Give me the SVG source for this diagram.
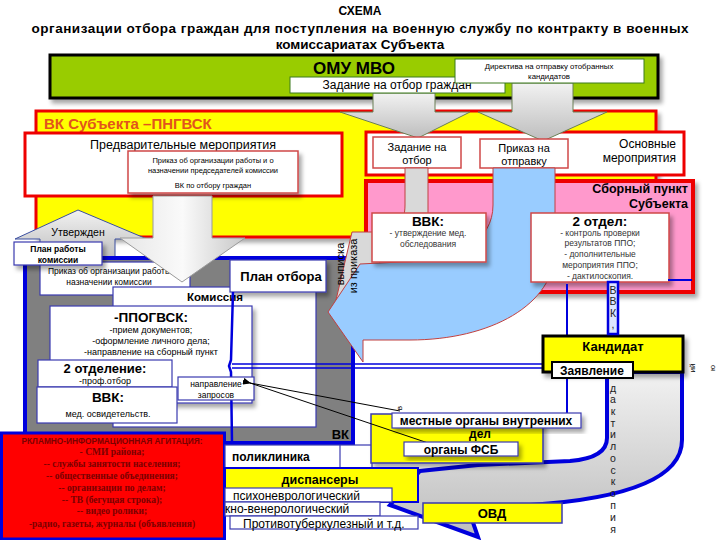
<svg xmlns="http://www.w3.org/2000/svg" width="720" height="540" viewBox="0 0 720 540">
<defs>
<filter id="sh" x="-10%" y="-15%" width="130%" height="150%"><feDropShadow dx="3" dy="4" stdDeviation="2" flood-color="#000" flood-opacity="0.35"/></filter>
<linearGradient id="gg" x1="0" y1="0" x2="0" y2="1"><stop offset="0" stop-color="#f2f2f2"/><stop offset="1" stop-color="#bdbdbd"/></linearGradient>
<linearGradient id="gh" x1="0" y1="0" x2="1" y2="0"><stop offset="0" stop-color="#e6e6e6"/><stop offset="0.5" stop-color="#fafafa"/><stop offset="1" stop-color="#c8c8c8"/></linearGradient>
<marker id="ah" markerWidth="8" markerHeight="6" refX="1" refY="3" orient="auto-start-reverse" markerUnits="userSpaceOnUse"><path d="M8,0 L0,3 L8,6 Z" fill="#000"/></marker>
<style>
text{font-family:"Liberation Sans",Arial,sans-serif;fill:#000}
.b{font-weight:bold}
.m{text-anchor:middle}
.e{text-anchor:end}
.s{font-size:8.5px;fill:#333}
.wb{fill:#fff;stroke:#3a3ab0;stroke-width:1.2}
.wr{fill:#fff;stroke:#d04848;stroke-width:1.5}
.bl{stroke:#0000dd;fill:none}
.rt{font-family:"Liberation Serif","Times New Roman",serif;font-weight:bold;font-size:9.5px;fill:#7a0000;text-anchor:middle}
.v{font-size:10.5px;text-anchor:middle;fill:#222}
</style>
</defs>
<rect width="720" height="540" fill="#fff"/>

<g id="title">
<text x="360" y="15" class="b m" font-size="12">СХЕМА</text>
<text x="360" y="33" class="b m" font-size="13.5" textLength="657">организации отбора граждан для поступления на военную службу по контракту в военных</text>
<text x="360" y="49" class="b m" font-size="13.5">комиссариатах Субъекта</text>
</g>

<g id="omu">
<rect x="50" y="55" width="608" height="43" fill="#99cc00" stroke="#000" stroke-width="3" filter="url(#sh)"/>
<text x="354" y="74" class="b m" font-size="17">ОМУ МВО</text>
</g>

<g id="vk-subj">
<rect x="36" y="111" width="620" height="126" fill="#ffff00" stroke="#ee0000" stroke-width="3" filter="url(#sh)"/>
<text x="44" y="129" class="b" font-size="15" style="fill:#e2541c">ВК Субъекта –ПНГВСК</text>
</g>

<g id="predv">
<rect x="25" y="133" width="317" height="63" fill="#fff" stroke="#ee0000" stroke-width="3"/>
<text x="183" y="149" class="m" font-size="12.5">Предварительные мероприятия</text>
</g>

<g id="osn">
<rect x="366" y="132" width="318" height="43" fill="#fff" stroke="#ee0000" stroke-width="3"/>
<text x="676" y="148" class="e" font-size="12">Основные</text>
<text x="676" y="162" class="e" font-size="12">мероприятия</text>
</g>

<g id="sbor">
<rect x="366" y="181" width="327" height="111" fill="#ff99cc" stroke="#ee0000" stroke-width="4" filter="url(#sh)"/>
<text x="688" y="193" class="b e" font-size="12.5">Сборный пункт</text>
<text x="688" y="208" class="b e" font-size="12.5">Субъекта</text>
</g>

<g id="connectors">
<path d="M373,93 L435,93 L435,112 L470,112 L418,138 L340,112 L373,112 Z" fill="url(#gg)" stroke="#6b7f55" stroke-width="1"/>
<path d="M512,83 L573,83 L573,112 L607,112 L543,141 L478,112 L512,112 Z" fill="url(#gg)" stroke="#6b7f55" stroke-width="1"/>
<path d="M40,260 L40,239 L15,239 L78,210 L147,239 L115,239 L115,260 Z" fill="url(#gg)" stroke="#3a4ea0" stroke-width="1"/>
</g>

<g id="zad-otbor">
<rect x="373" y="137" width="88" height="31" class="wr"/>
<text x="417" y="151" class="m" font-size="11">Задание на</text>
<text x="417" y="164" class="m" font-size="11">отбор</text>
</g>
<g id="prikaz-otpr">
<rect x="480" y="139" width="88" height="29" class="wr"/>
<text x="524" y="152" class="m" font-size="11">Приказ на</text>
<text x="524" y="165" class="m" font-size="11">отправку</text>
</g>
<g id="zad-grazhdan">
<rect x="290" y="77" width="215" height="16" fill="#fff" stroke="#3d7a1e" stroke-width="1"/>
<text x="397" y="89" class="m" font-size="12">Задание на отбор граждан</text>
</g>
<g id="direktiva">
<rect x="455" y="59" width="189" height="24" fill="#fff" stroke="#3d7a1e" stroke-width="1"/>
<text x="549" y="69" class="m" font-size="7.8" fill="#222">Директива на отправку отобранных</text>
<text x="549" y="79" class="m" font-size="7.8" fill="#222">кандидатов</text>
</g>
<g id="prikaz-vk">
<rect x="128" y="151" width="170" height="42" class="wr" filter="url(#sh)"/>
<text x="213" y="163" class="m" font-size="7.5" fill="#333">Приказ об организации работы и о</text>
<text x="213" y="173" class="m" font-size="7.5" fill="#333">назначении председателей комиссии</text>
<text x="213" y="188" class="m" font-size="7.5" fill="#333">ВК по отбору граждан</text>
</g>

<g id="vk">
<rect x="25" y="258" width="328" height="185" fill="#808080" stroke="#0000dd" stroke-width="4"/>
<text x="349" y="439" class="b e" font-size="13">ВК</text>
</g>

<g id="connectors-2">
<path d="M405,168 L428,168 L428,215 C428,240 410,255 380,258 L376,300 L336,300 L352,232 L380,232 C398,232 405,222 405,205 Z" fill="#d9d9d9" stroke="#c04040" stroke-width="1"/>
<path d="M493,168 L555,168 L555,250 C555,305 490,340 410,340 L363,340 L363,362 L328,312 L360,264 L400,262 C460,262 493,240 493,205 Z" fill="#99ccff" stroke="#c04040" stroke-width="1"/>
</g>

<g id="vypiska">
<text transform="translate(344,264) rotate(-90)" class="m" font-size="11">выписка</text>
<text transform="translate(357,266) rotate(-90)" class="m" font-size="11">из приказа</text>
</g>

<g id="vvk-sbor">
<rect x="372" y="213" width="114" height="49" class="wr" filter="url(#sh)"/>
<text x="428" y="226" class="b m" font-size="13.5">ВВК:</text>
<text x="428" y="236" class="m s">- утверждение мед.</text>
<text x="428" y="247" class="m s">обследования</text>
</g>
<g id="otdel2">
<rect x="531" y="213" width="138" height="69" class="wr" filter="url(#sh)"/>
<text x="600" y="226" class="b m" font-size="13.5">2 отдел:</text>
<text x="600" y="236" class="m s">- контроль проверки</text>
<text x="600" y="246" class="m s">результатов ППО;</text>
<text x="600" y="257" class="m s">- дополнительные</text>
<text x="600" y="268" class="m s">мероприятия ППО;</text>
<text x="600" y="279" class="m s">- дактилоскопия.</text>
</g>
<line x1="668" y1="280" x2="692" y2="280" class="bl" stroke-width="2"/>

<g id="prikaz-kom">
<rect x="40" y="262" width="150" height="33" class="wb"/>
<text x="48" y="274" font-size="8.5" fill="#444">Приказ об организации работы и о</text>
<text x="109" y="285" class="m" font-size="8.5" fill="#444">назначении комиссии</text>
</g>

<g id="arrow-kom">
<path d="M153,196 L212,196 L212,238 L245,238 L182,282 L120,238 L153,238 Z" fill="url(#gh)" stroke="#9a9a9a" stroke-width="1"/>
</g>

<g id="utv">
<text x="78" y="236" class="m" font-size="10.5" fill="#333">Утвержден</text>
</g>
<g id="plan-rab">
<rect x="14" y="242" width="88" height="23" class="wb" filter="url(#sh)"/>
<text x="58" y="252" class="b m" font-size="8.5">План работы</text>
<text x="58" y="263" class="b m" font-size="8.5">комиссии</text>
</g>

<g id="komissiya">
<rect x="113" y="287" width="203" height="140" class="wb"/>
<text x="215" y="301" class="b m" font-size="11.5">Комиссия</text>
</g>
<g id="plan-otbora">
<rect x="230" y="260" width="96" height="32" class="wb" filter="url(#sh)"/>
<text x="281" y="281" class="b m" font-size="13">План отбора</text>
</g>

<g id="ppogvsk">
<rect x="50" y="306" width="202" height="97" class="wb" filter="url(#sh)"/>
<text x="151" y="322" class="b m" font-size="13.5">-ППОГВСК:</text>
<text x="151" y="333" class="m" font-size="9" fill="#333">-прием документов;</text>
<text x="151" y="344" class="m" font-size="9" fill="#333">-оформление личного дела;</text>
<text x="151" y="355" class="m" font-size="9" fill="#333">-направление на сборный пункт</text>
</g>

<g id="blue-lines">
<path d="M233,292 L231,360 L229,366 L231,372 L232,443" class="bl" stroke-width="2.5"/>
<line x1="232" y1="364" x2="553" y2="364" class="bl" stroke-width="1.5"/>
<line x1="232" y1="368" x2="553" y2="368" class="bl" stroke-width="1.5"/>
<path d="M567,284 L567,417" class="bl" stroke-width="2"/>
<text transform="translate(402,408) rotate(-90)" class="m" font-size="8" fill="#333">в</text>
</g>

<g id="otdelenie2">
<rect x="38" y="360" width="134" height="27" class="wb"/>
<text x="105" y="373" class="b m" font-size="13">2 отделение:</text>
<text x="105" y="384" class="m" font-size="9" fill="#333">-проф.отбор</text>
</g>
<g id="vvk-left">
<rect x="37" y="387" width="140" height="36" class="wb"/>
<text x="108" y="402" class="b m" font-size="13.5">ВВК:</text>
<text x="108" y="417" class="m" font-size="9" fill="#333">мед. освидетельств.</text>
</g>
<g id="napr">
<rect x="178" y="377" width="76" height="23" class="wb"/>
<text x="216" y="387" class="m" font-size="8.5" fill="#333">направление</text>
<text x="216" y="398" class="m" font-size="8.5" fill="#333">запросов</text>
</g>

<g id="u-arrow">
<path d="M607,372 L607,438 Q607,458 570,461 L478,465 L420,471 L390,505 L478,537 L468,508 L530,505 Q682,495 682,440 L682,372 Z" fill="url(#gg)" stroke="#0000dd" stroke-width="4"/>
</g>

<g id="reklama">
<rect x="1.5" y="433" width="223" height="106" fill="#ff0000" stroke="#0000dd" stroke-width="3"/>
<text x="112" y="444" class="b m" font-size="8.3" style="fill:#7a0000">РКЛАМНО-ИНФОРМАЦИОННАЯ АГИТАЦИЯ:</text>
<text x="112" y="455" class="rt">- СМИ района;</text>
<text x="112" y="467" class="rt">-- службы занятости населения;</text>
<text x="112" y="479" class="rt">-- общественные объединения;</text>
<text x="112" y="491" class="rt">-- организации по делам;</text>
<text x="112" y="503" class="rt">-- ТВ (бегущая строка);</text>
<text x="112" y="514" class="rt">-- видео ролики;</text>
<text x="112" y="527" class="rt">-радио, газеты, журналы (объявления)</text>
</g>

<g id="poliklinika">
<rect x="225" y="445" width="147" height="23" class="wb"/>
<line x1="340" y1="445" x2="340" y2="468" stroke="#3a3ab0" stroke-width="1.2"/>
<text x="232" y="461" class="b" font-size="12">поликлиника</text>
</g>

<g id="organy">
<rect x="371" y="414" width="172" height="49" fill="#ffff00" stroke="#3a3ab0" stroke-width="1.5" filter="url(#sh)"/>
<text x="480" y="438" class="b m" font-size="12">дел</text>
</g>
<g id="zapros-lines">
<line x1="250" y1="383" x2="400" y2="411" stroke="#000" stroke-width="1" marker-start="url(#ah)"/>
<line x1="250" y1="383" x2="437" y2="446" stroke="#000" stroke-width="1" marker-start="url(#ah)"/>
</g>
<g id="mvd">
<rect x="392" y="413" width="189" height="15" class="wb" filter="url(#sh)"/>
<text x="486" y="425" class="b m" font-size="12">местные органы внутренних</text>
</g>
<g id="fsb">
<rect x="404" y="442" width="114" height="14" class="wb" filter="url(#sh)"/>
<text x="461" y="454" class="b m" font-size="12">органы ФСБ</text>
</g>

<g id="dispansery">
<rect x="225" y="468" width="193" height="34" fill="#ffff00" stroke="#0000dd" stroke-width="2"/>
<text x="320" y="484" class="b m" font-size="12.5">диспансеры</text>
<rect x="225" y="488" width="167" height="14" class="wb"/>
<text x="233" y="500" font-size="12">психоневрологический</text>
<rect x="225" y="502" width="155" height="14" class="wb"/>
<text x="225" y="513" font-size="12">кно-венерологический</text>
<rect x="230" y="516" width="188" height="13" class="wb"/>
<text x="243" y="528" font-size="12">Противотуберкулезный и т.д.</text>
</g>

<g id="ovd">
<rect x="423" y="503" width="139" height="20" fill="#ffff00" stroke="#3a3ab0" stroke-width="1.5"/>
<text x="492" y="518" class="b m" font-size="13">ОВД</text>
</g>

<g id="kandidat">
<rect x="543" y="336" width="140" height="36" fill="#ffff00" stroke="#000" stroke-width="3" filter="url(#sh)"/>
<text x="613" y="351" class="b m" font-size="13">Кандидат</text>
</g>
<g id="zayavlenie">
<rect x="552" y="362" width="81" height="16" fill="#fff" stroke="#000" stroke-width="2"/>
<text x="592" y="375" class="b m" font-size="12">Заявление</text>
</g>

<g id="vvk-dakt">
<rect x="608" y="282" width="10" height="52" fill="#dde6ff" stroke="#0000dd" stroke-width="2.5"/>
<text class="v"><tspan x="613" y="294">В</tspan><tspan x="613" y="305">В</tspan><tspan x="613" y="317">К</tspan><tspan x="613" y="328">,</tspan></text>
<text class="v"><tspan x="613" y="392">д</tspan><tspan x="613" y="403">а</tspan><tspan x="613" y="415">к</tspan><tspan x="613" y="427">т</tspan><tspan x="613" y="438">и</tspan><tspan x="613" y="450">л</tspan><tspan x="613" y="462">о</tspan><tspan x="613" y="474">с</tspan><tspan x="613" y="485">к</tspan><tspan x="613" y="497">о</tspan><tspan x="613" y="509">п</tspan><tspan x="613" y="521">и</tspan><tspan x="613" y="533">я</tspan></text>
<text transform="translate(695,368) rotate(-90)" class="m" font-size="8" fill="#333">ий</text>
<text transform="translate(715,368) rotate(-90)" class="m" font-size="8" fill="#333">ю</text>
</g>
</svg>
